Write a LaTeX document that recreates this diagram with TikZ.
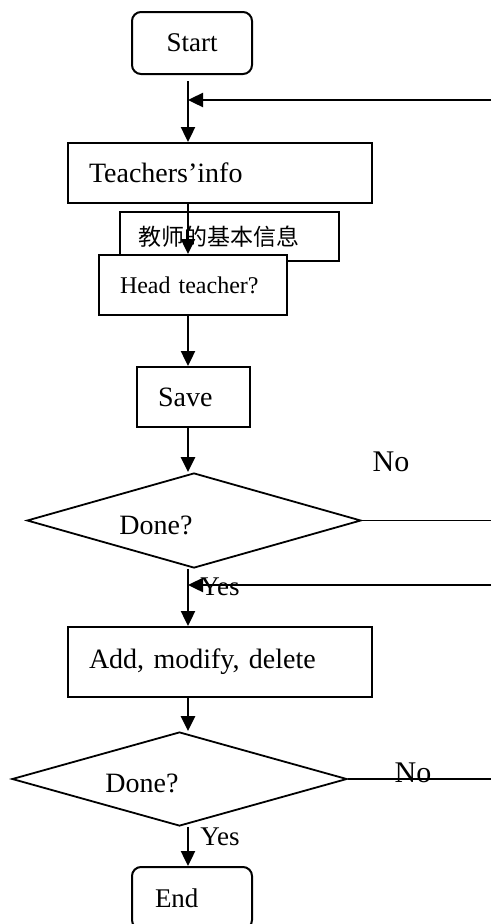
\documentclass[tikz,border=0pt]{standalone}
\usepackage{fontspec}
\setmainfont{Liberation Serif}
\newfontfamily\cjk{Noto Sans CJK SC}
\usetikzlibrary{shapes.geometric,arrows.meta}
\usetikzlibrary{positioning}

\tikzset{
  term/.style={draw, line width=2pt, rounded corners=9pt, fill=white,
    minimum width=120pt, minimum height=62pt, inner sep=0pt,
    font=\fontsize{27pt}{31pt}\selectfont},
  proc/.style={draw, line width=2pt, fill=white, minimum height=60pt,
    inner xsep=21pt, inner ysep=0pt, align=left,
    font=\fontsize{28pt}{32pt}\selectfont},
  note/.style={draw, line width=1.4pt, fill=white, minimum width=219pt,
    minimum height=49pt, inner xsep=18pt, inner ysep=0pt, align=left,
    font=\cjk\fontsize{23pt}{27pt}\selectfont},
  decide/.style={draw, diamond, line width=1.8pt, fill=white, inner sep=0pt},
  txt/.style={inner sep=0pt, font=\fontsize{28pt}{32pt}\selectfont},
  flow/.style={line width=2.4pt, ->},
  wire/.style={line width=1.9pt},
}

\begin{document}
\begin{tikzpicture}[x=1pt,y=-1pt,>={Triangle[length=15pt,width=14pt]}]
\useasboundingbox (0,0) rectangle (491,924);
\coordinate (trunk) at (188,0);
\coordinate (rim) at (491,0);
\coordinate (back1) at (491,100);
\coordinate (back2) at (491,585);

% boxes
\node[term] (start) at (192,43) {Start};
\node[proc, text width=262pt] (info) at (220,173) {Teachers’info};
\node[note, text width=183pt] (cninfo) at (229.5,236.5) {教师的基本信息};
\node[proc, text width=146pt, font=\fontsize{24pt}{28pt}\selectfont] (head) at (193,285) {Head teacher?};
\node[proc, text width=71pt] (save) at (193.5,397) {Save};

\node[decide, minimum width=334pt, minimum height=95pt] (done1) at (194,520.5) {};
\node[txt] (donetxt1) at (156,525) {Done?};
\node[txt, font=\fontsize{30pt}{34pt}\selectfont] (no1) at (391,462) {No};
\node[txt, font=\fontsize{27pt}{31pt}\selectfont] (yes1) at (220,587) {Yes};

\node[proc, minimum height=70pt, text width=262pt] (edit) at (220,662) {Add, modify, delete};

\node[decide, minimum width=335pt, minimum height=94pt] (done2) at (179.5,779) {};
\node[txt] (donetxt2) at (142,783) {Done?};
\node[txt, font=\fontsize{30pt}{34pt}\selectfont] (no2) at (413,773) {No};
\node[txt, font=\fontsize{27pt}{31pt}\selectfont] (yes2) at (220,837) {Yes};

\node[term, text width=74pt, inner xsep=23pt, align=left] (finish) at (192,898) {End};

% connectors
\draw[flow, shorten <=6pt] (start.south -| trunk) -- (info.north -| trunk);
\draw[flow] (back1) -- (back1 -| trunk);
\draw[flow] (info.south -| trunk) -- (head.north -| trunk);
\draw[flow] (head.south -| trunk) -- (save.north -| trunk);
\draw[flow] (save.south -| trunk) -- (done1.north -| trunk);
\draw[wire] (done1.east) -- (done1.east -| rim);
\draw[flow] (done1.south -| trunk) -- (edit.north -| trunk);
\draw[flow] (back2) -- (back2 -| trunk);
\draw[flow] (edit.south -| trunk) -- (done2.north -| trunk);
\draw[wire] (done2.east) -- (done2.east -| rim);
\draw[flow] (done2.south -| trunk) -- (finish.north -| trunk);
\end{tikzpicture}
\end{document}
